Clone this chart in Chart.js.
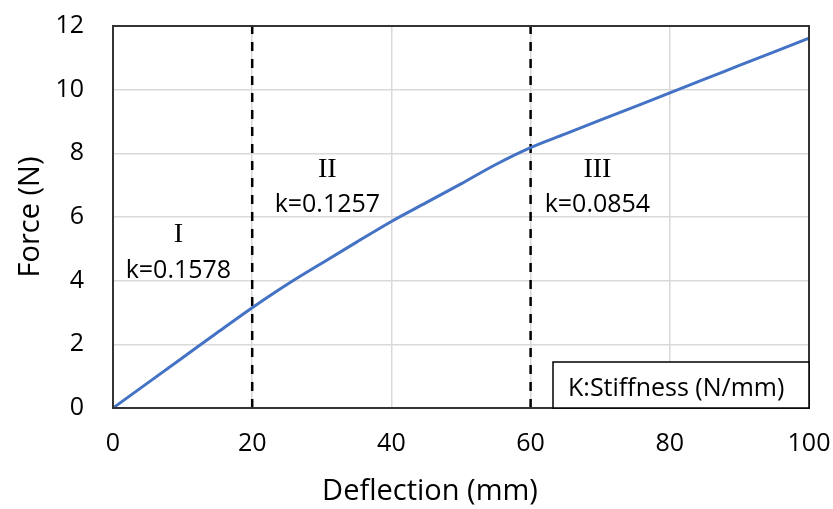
<!DOCTYPE html>
<html>
<head>
<meta charset="utf-8">
<title>Force vs Deflection</title>
<script src="https://cdn.jsdelivr.net/npm/chart.js@4.4.1/dist/chart.umd.min.js"></script>
<style>
  html, body { margin: 0; padding: 0; background: #fff; }
  #wrap { width: 833px; height: 509px; }
</style>
</head>
<body>
<div id="wrap"><canvas id="forceChart" width="833" height="509"></canvas></div>
<script>
// measured curve: deflection (mm) -> force (N)
var deflection = [0, 5, 10, 15, 20, 25, 30, 35, 40, 45, 50, 55, 60, 65, 70, 75, 80, 85, 90, 95, 100];
var force = [0, 0.79, 1.58, 2.37, 3.15, 3.88, 4.55, 5.21, 5.86, 6.45, 7.04, 7.65, 8.18, 8.61, 9.04, 9.47, 9.9, 10.33, 10.76, 11.19, 11.62];

// stage boundaries and the stiffness of each stage
var boundaries = [20, 60];
var stageNames = ['I', 'II', 'III'];
var stiffness = [0.1578, 0.1257, 0.0854];

var xTicks = [0, 20, 40, 60, 80, 100];
var yTicks = [0, 2, 4, 6, 8, 10, 12];

var FONT = "'Open Sans', 'Noto Sans', sans-serif";

var datasets = [{
    label: 'Force',
    data: deflection.map(function (d, i) { return { x: d, y: force[i] }; }),
    showLine: true,
    borderColor: '#4472C4',
    borderWidth: 3,
    pointRadius: 0,
    cubicInterpolationMode: 'monotone'
}];

boundaries.forEach(function (b) {
    datasets.push({
        label: 'boundary ' + b,
        data: [{ x: b, y: yTicks[0] }, { x: b, y: yTicks[yTicks.length - 1] }],
        showLine: true,
        borderColor: '#000',
        borderWidth: 2.5,
        borderDash: [9, 8],
        pointRadius: 0
    });
});

// where the stage labels sit, in data units
var labelSpots = [
    { x: 9.4, yName: 5.45, yK: 4.3 },
    { x: 30.8, yName: 7.5, yK: 6.37 },
    { x: 69.6, yName: 7.5, yK: 6.37 }
];

var decorations = {
    id: 'decorations',
    afterDraw: function (chart) {
        var ctx = chart.ctx;
        var a = chart.chartArea;
        var xs = chart.scales.x, ys = chart.scales.y;
        ctx.save();

        // plot frame
        ctx.strokeStyle = '#333';
        ctx.lineWidth = 2;
        ctx.strokeRect(a.left, a.top, a.right - a.left, a.bottom - a.top);

        // stage names and stiffness values
        ctx.fillStyle = '#000';
        ctx.textAlign = 'center';
        ctx.textBaseline = 'middle';
        labelSpots.forEach(function (s, i) {
            var px = xs.getPixelForValue(s.x);
            ctx.font = "28px 'Liberation Serif', 'DejaVu Serif', serif";
            ctx.fillText(stageNames[i], px, ys.getPixelForValue(s.yName));
            ctx.font = '25px ' + FONT;
            ctx.fillText('k=' + stiffness[i].toFixed(4), px, ys.getPixelForValue(s.yK));
        });

        // stiffness key box
        var bw = 256, bh = 46;
        var bx = a.right - bw, by = a.bottom - bh;
        ctx.fillStyle = '#fff';
        ctx.fillRect(bx, by, bw, bh);
        ctx.strokeStyle = '#000';
        ctx.lineWidth = 1.5;
        ctx.strokeRect(bx, by, bw, bh);
        ctx.fillStyle = '#000';
        ctx.textAlign = 'left';
        ctx.font = '25px ' + FONT;
        ctx.fillText('K:Stiffness (N/mm)', bx + 15, by + 27);

        // x axis title
        ctx.textAlign = 'center';
        ctx.font = '29px ' + FONT;
        ctx.fillText('Deflection (mm)', 430, 492);
        ctx.restore();
    }
};

var ctx = document.getElementById('forceChart').getContext('2d');
var forceChart = new Chart(ctx, {
    type: 'scatter',
    data: { datasets: datasets },
    options: {
        responsive: false,
        animation: false,
        devicePixelRatio: 1,
        layout: { padding: { top: 26, right: 24, left: 0, bottom: 0 } },
        plugins: {
            legend: { display: false },
            tooltip: { enabled: false }
        },
        scales: {
            x: {
                type: 'linear',
                min: xTicks[0],
                max: xTicks[xTicks.length - 1],
                afterBuildTicks: function (axis) {
                    axis.ticks = xTicks.map(function (v) { return { value: v }; });
                },
                afterFit: function (axis) {
                    axis.height = 101;
                    axis.paddingLeft = 0;
                    axis.paddingRight = 0;
                },
                ticks: { color: '#000', font: { family: FONT, size: 25 }, padding: 21, maxRotation: 0 },
                grid: { color: '#d9d9d9', lineWidth: 1.5, drawTicks: false },
                border: { display: false }
            },
            y: {
                type: 'linear',
                min: yTicks[0],
                max: yTicks[yTicks.length - 1],
                afterBuildTicks: function (axis) {
                    axis.ticks = yTicks.map(function (v) { return { value: v }; });
                },
                afterFit: function (axis) {
                    axis.width = 113;
                    axis.paddingTop = 0;
                    axis.paddingBottom = 0;
                },
                ticks: { color: '#000', font: { family: FONT, size: 25 }, padding: 29 },
                grid: { color: '#d9d9d9', lineWidth: 1.5, drawTicks: false },
                border: { display: false },
                title: {
                    display: true,
                    text: 'Force (N)',
                    color: '#000',
                    font: { family: FONT, size: 29 },
                    padding: { top: 13, bottom: 0 }
                }
            }
        }
    },
    plugins: [decorations]
});
</script>
</body>
</html>
